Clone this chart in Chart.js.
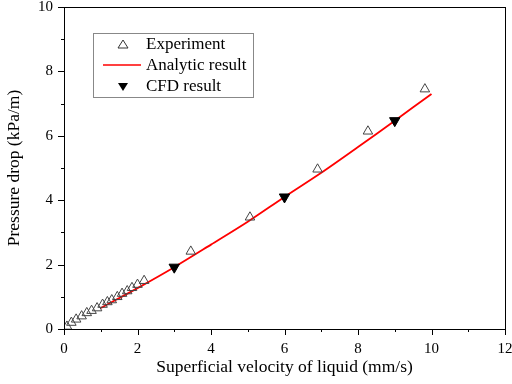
<!DOCTYPE html>
<html>
<head>
<meta charset="utf-8">
<script src="https://cdn.jsdelivr.net/npm/chart.js@4.4.0/dist/chart.umd.min.js"></script>
<style>
  html, body { margin: 0; padding: 0; background: #fff; }
  #wrap { width: 512px; height: 384px; }
</style>
</head>
<body>
<div id="wrap"><canvas id="pdChart" width="512" height="384"></canvas></div>
<script>
// experiment points (velocity mm/s, pressure drop kPa/m)
const expX = [0.08, 0.2, 0.33, 0.48, 0.62, 0.75, 0.9, 1.05, 1.18, 1.3, 1.45, 1.58, 1.72, 1.85, 2.0, 2.18, 3.45, 5.06, 6.9, 8.27, 9.82];
const expY = [0.08, 0.2, 0.3, 0.4, 0.5, 0.57, 0.65, 0.76, 0.84, 0.9, 1.0, 1.1, 1.18, 1.28, 1.38, 1.5, 2.41, 3.47, 4.96, 6.14, 7.45];

// analytic curve
const anaX = [1, 2, 3, 4, 5, 6, 7, 8, 9, 10];
const anaY = [0.65, 1.27, 1.92, 2.62, 3.33, 4.1, 4.85, 5.65, 6.47, 7.3];

// CFD results
const cfdX = [3, 6, 9];
const cfdY = [1.92, 4.1, 6.47];

const xTicks = [0, 2, 4, 6, 8, 10, 12];
const yTicks = [0, 2, 4, 6, 8, 10];

const toPts = (xs, ys) => xs.map((x, i) => ({ x: x, y: ys[i] }));
const font = 'Liberation Serif';

// frame, minor ticks and the boxed legend
const decor = {
    id: 'decor',
    afterDraw(chart) {
        const ctx = chart.ctx;
        const a = chart.chartArea;
        const xs = chart.scales.x;
        const ys = chart.scales.y;
        ctx.save();
        ctx.strokeStyle = '#000';
        ctx.lineWidth = 1;
        ctx.strokeRect(a.left + 0.5, a.top + 0.5, a.right - a.left, a.bottom - a.top);

        ctx.beginPath();
        for (let v = 0; v <= 12; v++) {
            const px = Math.round(xs.getPixelForValue(v)) + 0.5;
            const len = v % 2 === 0 ? 6 : 3;
            ctx.moveTo(px, a.bottom);
            ctx.lineTo(px, a.bottom + len);
        }
        for (let v = 0; v <= 10; v++) {
            const py = Math.round(ys.getPixelForValue(v)) + 0.5;
            const len = v % 2 === 0 ? 6 : 3;
            ctx.moveTo(a.left, py);
            ctx.lineTo(a.left - len, py);
        }
        ctx.stroke();

        // legend box
        ctx.strokeStyle = '#888';
        ctx.strokeRect(93.5, 33.5, 160, 64);
        ctx.font = '17px "' + font + '"';
        ctx.fillStyle = '#000';
        ctx.textBaseline = 'middle';
        ctx.fillText('Experiment', 146, 45);
        ctx.fillText('Analytic result', 146, 66);
        ctx.fillText('CFD result', 146, 87);

        // markers
        ctx.strokeStyle = '#333';
        ctx.beginPath();
        ctx.moveTo(123, 40); ctx.lineTo(128, 48); ctx.lineTo(118, 48); ctx.closePath();
        ctx.stroke();
        ctx.strokeStyle = 'red';
        ctx.lineWidth = 1.5;
        ctx.beginPath();
        ctx.moveTo(103, 65); ctx.lineTo(141, 65);
        ctx.stroke();
        ctx.fillStyle = '#000';
        ctx.beginPath();
        ctx.moveTo(118, 83); ctx.lineTo(128, 83); ctx.lineTo(123, 91); ctx.closePath();
        ctx.fill();
        ctx.restore();
    }
};

new Chart(document.getElementById('pdChart'), {
    type: 'scatter',
    data: {
        datasets: [
            {
                label: 'Analytic result',
                type: 'line',
                data: toPts(anaX, anaY),
                borderColor: 'rgb(255, 0, 0)',
                borderWidth: 1.8,
                pointRadius: 0,
                tension: 0.3,
                fill: false,
                order: 3,
            },
            {
                label: 'Experiment',
                data: toPts(expX, expY),
                pointStyle: 'triangle',
                pointRadius: 5.5,
                borderColor: '#444',
                borderWidth: 1,
                backgroundColor: 'rgba(0,0,0,0)',
                order: 2,
            },
            {
                label: 'CFD result',
                data: toPts(cfdX, cfdY),
                pointStyle: 'triangle',
                rotation: 180,
                pointRadius: 6,
                borderColor: '#000',
                backgroundColor: '#000',
                borderWidth: 1,
                order: 1,
            },
        ],
    },
    options: {
        responsive: false,
        animation: false,
        layout: { padding: { top: 6, right: 7, left: 0, bottom: 0 } },
        plugins: { legend: { display: false }, tooltip: { enabled: false } },
        scales: {
            x: {
                type: 'linear',
                min: 0,
                max: 12,
                afterFit: (s) => { s.height = 55; s.paddingLeft = 0; s.paddingRight = 0; },
                afterBuildTicks: (s) => { s.ticks = xTicks.map((v) => ({ value: v })); },
                grid: { display: true, drawOnChartArea: false, drawTicks: false },
                border: { display: false },
                ticks: { color: '#000', padding: 11, font: { family: font, size: 15 } },
                title: {
                    display: true,
                    text: 'Superficial velocity of liquid (mm/s)',
                    color: '#000',
                    font: { family: font, size: 17.5 },
                    padding: { top: 0, bottom: 6 },
                },
            },
            y: {
                type: 'linear',
                min: 0,
                max: 10,
                afterFit: (s) => { s.width = 64; s.paddingTop = 0; s.paddingBottom = 0; },
                afterBuildTicks: (s) => { s.ticks = yTicks.map((v) => ({ value: v })); },
                grid: { display: true, drawOnChartArea: false, drawTicks: false },
                border: { display: false },
                ticks: { color: '#000', padding: 11, font: { family: font, size: 15 } },
                title: {
                    display: true,
                    text: 'Pressure drop (kPa/m)',
                    color: '#000',
                    font: { family: font, size: 17.5 },
                    padding: { top: 4, bottom: 0 },
                },
            },
        },
    },
    plugins: [decor],
});
</script>
</body>
</html>
